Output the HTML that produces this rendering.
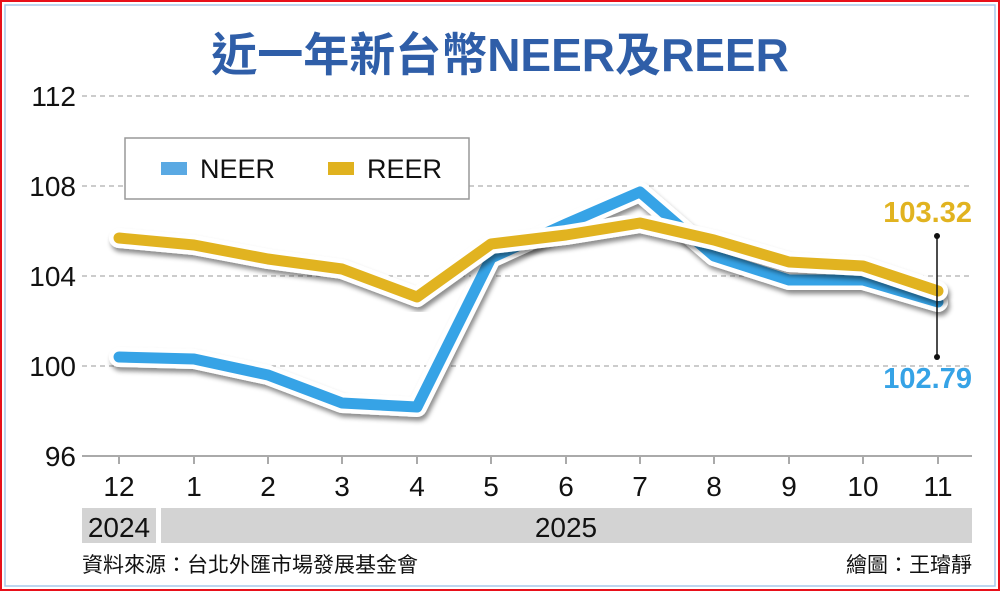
<!DOCTYPE html>
<html><head><meta charset="utf-8"><style>
body{margin:0;width:1000px;height:591px;overflow:hidden;background:#fff}
</style></head><body>
<svg width="1000" height="591" xmlns="http://www.w3.org/2000/svg" font-family="Liberation Sans, 'Noto Sans CJK TC', sans-serif">
<defs><filter id="sh" x="-10%" y="-10%" width="120%" height="130%"><feDropShadow dx="2" dy="4" stdDeviation="2.5" flood-color="#000" flood-opacity="0.45"/></filter></defs>
<rect x="1" y="1" width="998" height="589" fill="#fff" stroke="#e8101a" stroke-width="2"/>
<rect x="5" y="5" width="990" height="581" fill="none" stroke="#a9c8ea" stroke-width="1.5"/>
<text x="500" y="71" text-anchor="middle" font-size="46" font-weight="bold" fill="#2f5ea8">近一年新台幣NEER及REER</text>
<g stroke="#999" stroke-width="1" stroke-dasharray="5,4">
<line x1="82" y1="96" x2="972" y2="96"/><line x1="82" y1="186" x2="972" y2="186"/>
<line x1="82" y1="276" x2="972" y2="276"/><line x1="82" y1="366" x2="972" y2="366"/>
</g>
<line x1="82" y1="456" x2="972" y2="456" stroke="#aaa" stroke-width="2"/>
<g stroke="#aaa" stroke-width="2">
<line x1="119" y1="456" x2="119" y2="464"/><line x1="194" y1="456" x2="194" y2="464"/><line x1="268" y1="456" x2="268" y2="464"/><line x1="342" y1="456" x2="342" y2="464"/><line x1="417" y1="456" x2="417" y2="464"/><line x1="491" y1="456" x2="491" y2="464"/><line x1="566" y1="456" x2="566" y2="464"/><line x1="640" y1="456" x2="640" y2="464"/><line x1="714" y1="456" x2="714" y2="464"/><line x1="789" y1="456" x2="789" y2="464"/><line x1="863" y1="456" x2="863" y2="464"/><line x1="938" y1="456" x2="938" y2="464"/>
</g>
<g font-size="28" fill="#111" text-anchor="end">
<text x="76" y="106">112</text><text x="76" y="196">108</text><text x="76" y="286">104</text><text x="76" y="376">100</text><text x="76" y="466">96</text>
</g>
<g font-size="28" fill="#111" text-anchor="middle">
<text x="119" y="496">12</text><text x="194" y="496">1</text><text x="268" y="496">2</text><text x="342" y="496">3</text><text x="417" y="496">4</text><text x="491" y="496">5</text><text x="566" y="496">6</text><text x="640" y="496">7</text><text x="714" y="496">8</text><text x="789" y="496">9</text><text x="863" y="496">10</text><text x="938" y="496">11</text>
</g>
<rect x="82" y="508" width="74" height="35" fill="#d3d3d3"/>
<rect x="161" y="508" width="811" height="35" fill="#d3d3d3"/>
<text x="119" y="537" font-size="28" text-anchor="middle" fill="#111">2024</text>
<text x="566" y="537" font-size="28" text-anchor="middle" fill="#111">2025</text>
<text x="82" y="572" font-size="21" fill="#111">資料來源：台北外匯市場發展基金會</text>
<text x="972" y="572" font-size="21" fill="#111" text-anchor="end">繪圖：王璿靜</text>
<rect x="125" y="138" width="344" height="61" fill="#fff" stroke="#999" stroke-width="1.5"/>
<rect x="161" y="162" width="26" height="13" fill="#5aa9e3"/>
<text x="200" y="178" font-size="27" fill="#111">NEER</text>
<rect x="328" y="162" width="26" height="13" fill="#e0b21f"/>
<text x="367" y="178" font-size="27" fill="#111">REER</text>
<g fill="none" stroke-linejoin="round" stroke-linecap="round">
<polyline filter="url(#sh)" stroke="#fff" stroke-width="20" points="119,357 194,359 268,375 342,403 417,407 491,258 566,224 640,192 714,256 789,280 863,280 938,302"/>
<polyline stroke="#36a3e6" stroke-width="11" points="119,357 194,359 268,375 342,403 417,407 491,258 566,224 640,192 714,256 789,280 863,280 938,302"/>
<polyline filter="url(#sh)" stroke="#fff" stroke-width="20" points="119,238 194,245 268,259 342,269 417,297 491,244 566,235 640,223 714,240 789,262 863,266 938,291"/>
<polyline stroke="#e1b320" stroke-width="11" points="119,238 194,245 268,259 342,269 417,297 491,244 566,235 640,223 714,240 789,262 863,266 938,291"/>
</g>
<line x1="937" y1="236" x2="937" y2="357" stroke="#111" stroke-width="1.5"/>
<circle cx="937" cy="236" r="3" fill="#111"/><circle cx="937" cy="357" r="3" fill="#111"/>
<text x="972" y="222" font-size="29" font-weight="bold" fill="#e1b320" text-anchor="end">103.32</text>
<text x="972" y="388" font-size="29" font-weight="bold" fill="#36a3e6" text-anchor="end">102.79</text>
</svg>
</body></html>
